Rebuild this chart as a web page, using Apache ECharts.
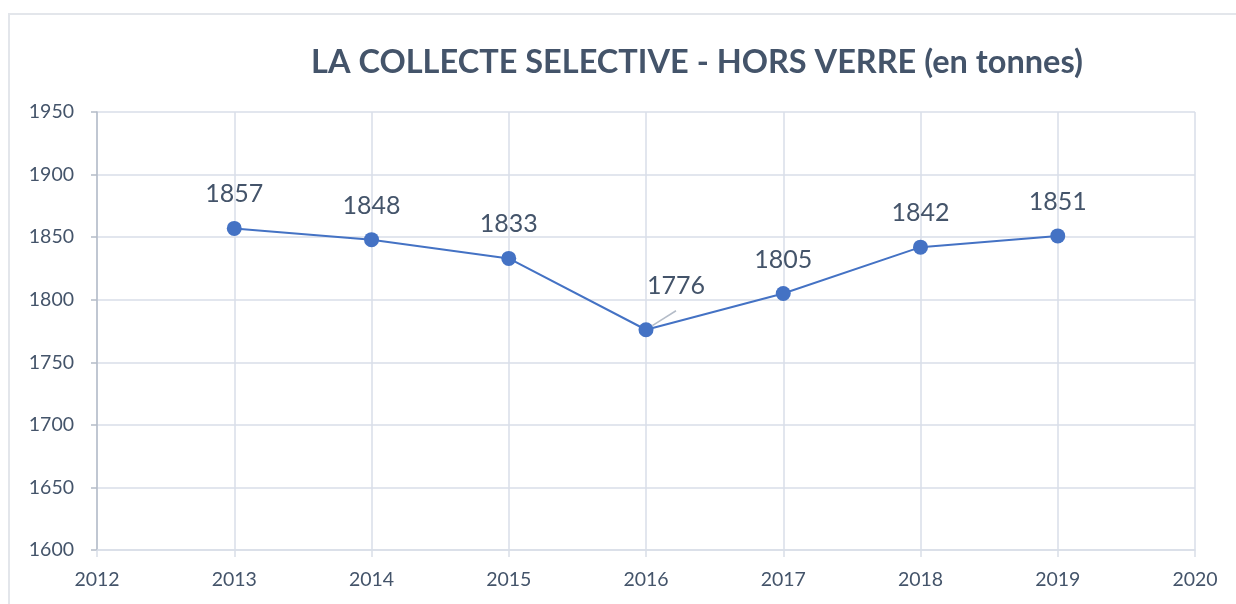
<!DOCTYPE html>
<html lang="fr">
<head>
    <meta charset="UTF-8">
    <title>La collecte selective</title>
    <script src="https://cdn.jsdelivr.net/npm/echarts@6/dist/echarts.min.js"></script>
    <style>
        html, body { margin: 0; padding: 0; background: #fff; }
        #chart { width: 1236px; height: 604px; }
    </style>
</head>
<body>
<div id="chart"></div>
<script type="text/javascript">
    // valeurs
    var years = [2013, 2014, 2015, 2016, 2017, 2018, 2019];
    var tonnes = [1857, 1848, 1833, 1776, 1805, 1842, 1851];

    var textColor = '#44546A';
    var gridColor = '#D9DEE8';

    var points = years.map(function (y, i) {
        var item = { value: [y, tonnes[i]] };
        if (y === 2016) {
            // étiquette décalée avec trait de rappel
            item.label = { offset: [30, -10] };
            item.labelLine = { show: true, lineStyle: { color: '#B4BCC8', width: 1.5 } };
        }
        return item;
    });

    var chart = echarts.init(document.getElementById('chart'));
    chart.setOption({
        animation: false,
        textStyle: { fontFamily: 'Lato, "Open Sans", sans-serif' },
        graphic: [{
            type: 'rect',
            shape: { x: 9, y: 14, width: 1260, height: 620 },
            style: { fill: 'none', stroke: '#E3E6EB', lineWidth: 2 },
            silent: true
        }],
        title: {
            text: 'LA COLLECTE SELECTIVE - HORS VERRE (en tonnes)',
            left: 692,
            top: 41,
            textAlign: 'center',
            textStyle: { color: textColor, fontSize: 32.5, fontWeight: 'bold', fontFamily: 'Lato, "Open Sans", sans-serif' }
        },
        grid: { left: 97, right: 41, top: 112, bottom: 54 },
        xAxis: {
            type: 'value',
            min: 2012,
            max: 2020,
            interval: 1,
            axisLine: { lineStyle: { color: gridColor, width: 1.5 } },
            axisTick: { show: true, length: 7, lineStyle: { color: gridColor, width: 1.5 } },
            axisLabel: { color: textColor, fontSize: 19.5, margin: 20, formatter: function (v) { return String(v); } },
            splitLine: { show: true, lineStyle: { color: gridColor, width: 1.5 } }
        },
        yAxis: {
            type: 'value',
            min: 1600,
            max: 1950,
            interval: 50,
            axisLine: { show: true, lineStyle: { color: '#B4BCC8', width: 1.5 } },
            axisTick: { show: true, length: 6, lineStyle: { color: '#B4BCC8', width: 1.5 } },
            axisLabel: { color: textColor, fontSize: 19.5, margin: 23, formatter: function (v) { return String(v); } },
            splitLine: { show: true, lineStyle: { color: gridColor, width: 1.5 } }
        },
        series: [{
            type: 'line',
            data: points,
            symbol: 'circle',
            symbolSize: 15,
            itemStyle: { color: '#4472C4' },
            lineStyle: { color: '#4472C4', width: 2 },
            label: {
                show: true,
                position: 'top',
                distance: 14,
                color: textColor,
                fontSize: 25
            }
        }]
    });
</script>
</body>
</html>
